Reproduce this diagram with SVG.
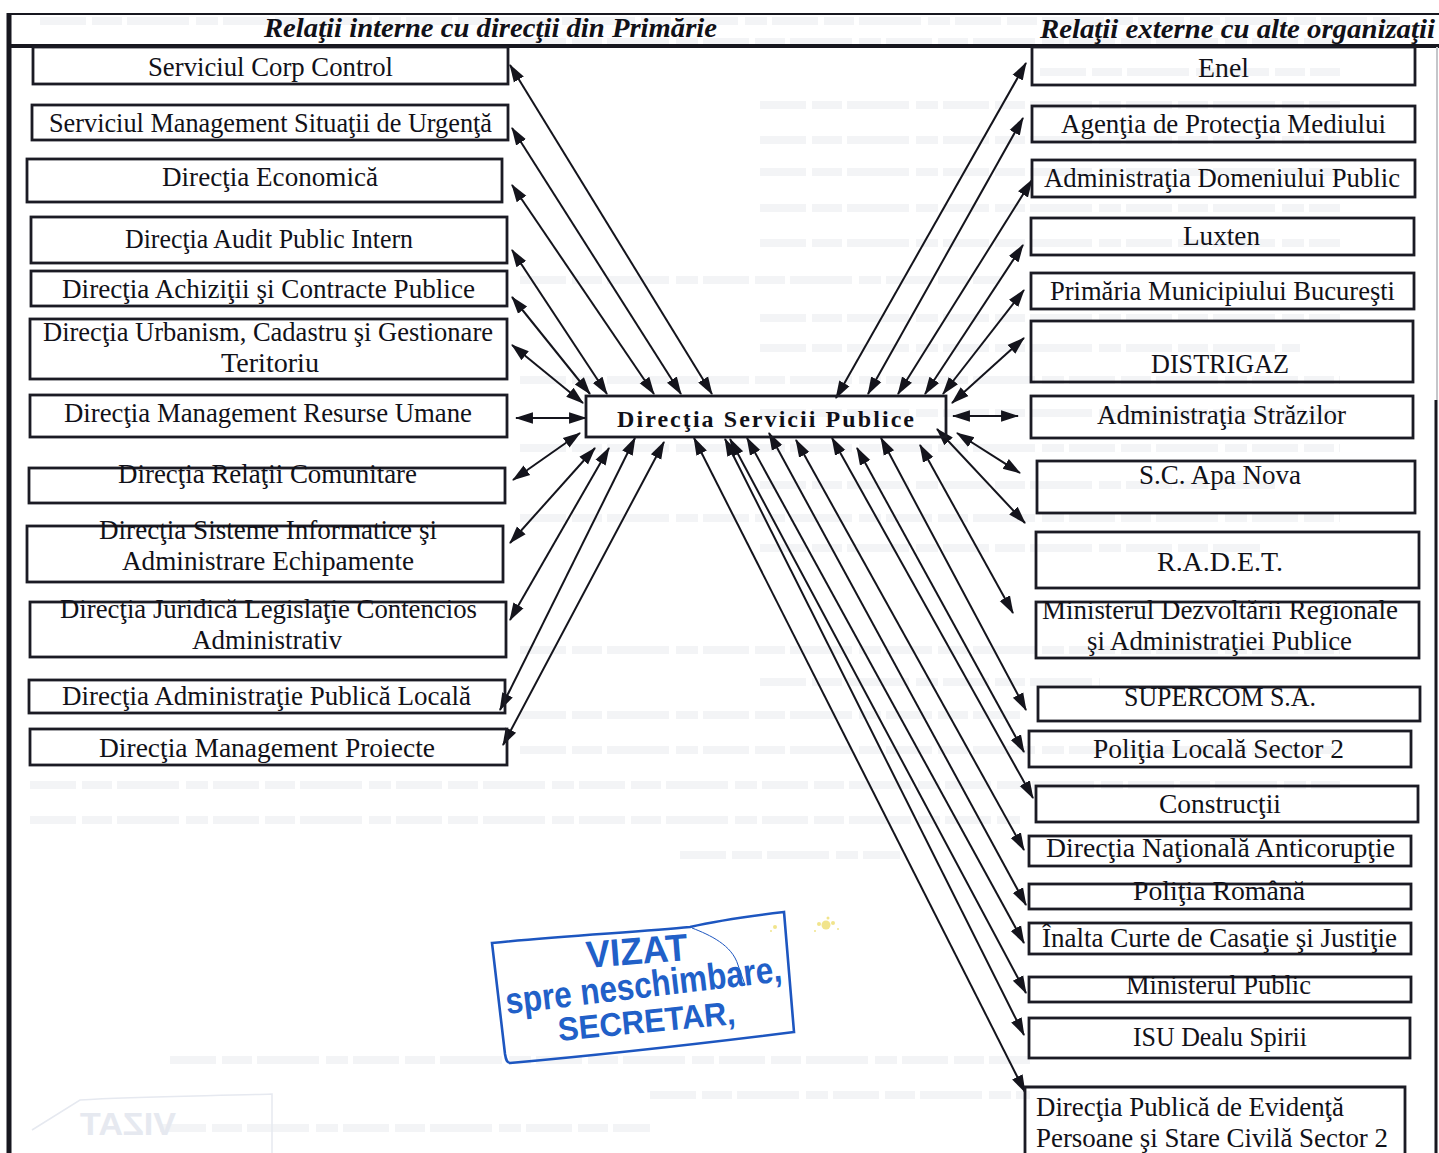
<svg xmlns="http://www.w3.org/2000/svg" width="1439" height="1153" viewBox="0 0 1439 1153">
<style>
.box{fill:none;stroke:#1b1b24;stroke-width:2.8}
.t{font-family:"Liberation Serif","Times New Roman",serif;font-size:27px;fill:#111118}
.h{font-family:"Liberation Serif","Times New Roman",serif;font-size:28px;font-weight:bold;font-style:italic;fill:#111118}
.c{font-family:"Liberation Serif","Times New Roman",serif;font-size:24px;font-weight:bold;fill:#111118}
.a{stroke:#14141c;stroke-width:2;fill:none;marker-start:url(#ah);marker-end:url(#ah)}
.g{stroke:#f3f4f6;stroke-width:8;fill:none;stroke-dasharray:46 6 30 5 62 7 22 5}
.s{font-family:"Liberation Sans",Arial,sans-serif;font-weight:bold;fill:#2160c8}
.st{fill:none;stroke:#1d56c0;stroke-width:2.6}
</style>
<defs>
<marker id="ah" markerUnits="userSpaceOnUse" markerWidth="18" markerHeight="14" refX="16" refY="6" orient="auto-start-reverse" viewBox="0 0 17 12"><path d="M0 0.5 L17 6 L0 11.5 Z" fill="#14141c"/></marker>
</defs>
<rect width="1439" height="1153" fill="#fff"/>
<g id="bleed">
<path class="g" d="M40 21H1400M520 42H1340M1040 72H1340M760 105H1340M760 140H1340M760 172H1340M760 208H1340M760 243H1340M520 280H1000M760 318H1340M760 348H1300M520 380H1340M760 413H1340M520 448H1340M760 485H1280M520 518H1340M760 548H1260M520 650H1340M760 682H1100M520 715H1020M520 750H1340M30 785H1340M30 820H1020M680 855H900M170 1060H1030M650 1095H1030M160 1128H650"/>
</g>
<g id="frame" fill="none" stroke="#17171f">
<path d="M9 13V1153" stroke-width="5"/>
<path d="M9 14H1439" stroke-width="2"/>
<path d="M9 46H1439" stroke-width="4"/>
<path d="M1437 47V400" stroke="#c4c6ca" stroke-width="2"/>
<path d="M1436 400V1153" stroke-width="3"/>
</g>
<g id="headers">
<text class="h" x="264" y="37" textLength="453" lengthAdjust="spacingAndGlyphs">Relaţii interne cu direcţii din Primărie</text>
<text class="h" x="1040" y="38" textLength="395" lengthAdjust="spacingAndGlyphs">Relaţii externe cu alte organizaţii</text>
</g>
<g id="connectors">
<path class="a" d="M510 65L712 394"/>
<path class="a" d="M512 128L681 394"/>
<path class="a" d="M512 185L654 394"/>
<path class="a" d="M512 250L607 394"/>
<path class="a" d="M512 297L590 394"/>
<path class="a" d="M512 345L583 403"/>
<path class="a" d="M516 418H586"/>
<path class="a" d="M513 480L580 433"/>
<path class="a" d="M510 543L595 448"/>
<path class="a" d="M510 620L609 448"/>
<path class="a" d="M500 710L635 438"/>
<path class="a" d="M503 745L664 442"/>
<path class="a" d="M1026 63L836 398"/>
<path class="a" d="M1023 118L868 394"/>
<path class="a" d="M1032 180L898 394"/>
<path class="a" d="M1023 245L925 394"/>
<path class="a" d="M1024 290L943 394"/>
<path class="a" d="M1024 338L952 403"/>
<path class="a" d="M1018 416H953"/>
<path class="a" d="M1020 473L957 433"/>
<path class="a" d="M1025 523L937 429"/>
<path class="a" d="M1013 613L920 445"/>
<path class="a" d="M1026 710L881 438"/>
<path class="a" d="M1024 752L857 448"/>
<path class="a" d="M1033 798L832 438"/>
<path class="a" d="M1024 850L796 440"/>
<path class="a" d="M1026 905L769 433"/>
<path class="a" d="M1024 943L747 438"/>
<path class="a" d="M1026 993L730 439"/>
<path class="a" d="M1024 1035L725 439"/>
<path class="a" d="M1025 1092L694 438"/>
</g>
<g id="n-center"><rect class="box" x="586" y="396" width="360" height="41"/><text class="c" x="617" y="427" textLength="297" lengthAdjust="spacing">Direcţia Servicii Publice</text></g>
<g id="l1"><rect class="box" x="33" y="47" width="475" height="37"/><text class="t" x="148" y="76" textLength="245" lengthAdjust="spacingAndGlyphs">Serviciul Corp Control</text></g>
<g id="l2"><rect class="box" x="32" y="105" width="476" height="35"/><text class="t" x="49" y="132" textLength="443" lengthAdjust="spacingAndGlyphs">Serviciul Management Situaţii de Urgenţă</text></g>
<g id="l3"><rect class="box" x="27" y="159" width="475" height="43"/><text class="t" x="162" y="186" textLength="216" lengthAdjust="spacingAndGlyphs">Direcţia Economică</text></g>
<g id="l4"><rect class="box" x="31" y="217" width="476" height="46"/><text class="t" x="125" y="248" textLength="288" lengthAdjust="spacingAndGlyphs">Direcţia Audit Public Intern</text></g>
<g id="l5"><rect class="box" x="31" y="271" width="476" height="35"/><text class="t" x="62" y="298" textLength="413" lengthAdjust="spacingAndGlyphs">Direcţia Achiziţii şi Contracte Publice</text></g>
<g id="l6"><rect class="box" x="30" y="319" width="477" height="60"/><text class="t" x="43" y="341" textLength="450" lengthAdjust="spacingAndGlyphs">Direcţia Urbanism, Cadastru şi Gestionare</text><text class="t" x="221" y="372" textLength="98" lengthAdjust="spacingAndGlyphs">Teritoriu</text></g>
<g id="l7"><rect class="box" x="30" y="395" width="477" height="42"/><text class="t" x="64" y="422" textLength="408" lengthAdjust="spacingAndGlyphs">Direcţia Management Resurse Umane</text></g>
<g id="l8"><rect class="box" x="29" y="468" width="476" height="35"/><text class="t" x="118" y="483" textLength="299" lengthAdjust="spacingAndGlyphs">Direcţia Relaţii Comunitare</text></g>
<g id="l9"><rect class="box" x="27" y="526" width="476" height="56"/><text class="t" x="99" y="539" textLength="338" lengthAdjust="spacingAndGlyphs">Direcţia Sisteme Informatice şi</text><text class="t" x="122" y="570" textLength="292" lengthAdjust="spacingAndGlyphs">Administrare Echipamente</text></g>
<g id="l10"><rect class="box" x="30" y="602" width="476" height="55"/><text class="t" x="60" y="618" textLength="417" lengthAdjust="spacingAndGlyphs">Direcţia Juridică Legislaţie Contencios</text><text class="t" x="192" y="649" textLength="150" lengthAdjust="spacingAndGlyphs">Administrativ</text></g>
<g id="l11"><rect class="box" x="29" y="680" width="476" height="33"/><text class="t" x="62" y="705" textLength="409" lengthAdjust="spacingAndGlyphs">Direcţia Administraţie Publică Locală</text></g>
<g id="l12"><rect class="box" x="30" y="729" width="477" height="36"/><text class="t" x="99" y="757" textLength="336" lengthAdjust="spacingAndGlyphs">Direcţia Management Proiecte</text></g>
<g id="r1"><rect class="box" x="1032" y="47" width="383" height="38"/><text class="t" x="1198" y="77" textLength="51" lengthAdjust="spacingAndGlyphs">Enel</text></g>
<g id="r2"><rect class="box" x="1032" y="106" width="383" height="36"/><text class="t" x="1061" y="133" textLength="325" lengthAdjust="spacingAndGlyphs">Agenţia de Protecţia Mediului</text></g>
<g id="r3"><rect class="box" x="1032" y="160" width="383" height="37"/><text class="t" x="1044" y="187" textLength="356" lengthAdjust="spacingAndGlyphs">Administraţia Domeniului Public</text></g>
<g id="r4"><rect class="box" x="1031" y="218" width="383" height="37"/><text class="t" x="1183" y="245" textLength="77" lengthAdjust="spacingAndGlyphs">Luxten</text></g>
<g id="r5"><rect class="box" x="1031" y="273" width="383" height="36"/><text class="t" x="1050" y="300" textLength="345" lengthAdjust="spacingAndGlyphs">Primăria Municipiului Bucureşti</text></g>
<g id="r6"><rect class="box" x="1031" y="321" width="382" height="61"/><text class="t" x="1151" y="373" textLength="138" lengthAdjust="spacingAndGlyphs">DISTRIGAZ</text></g>
<g id="r7"><rect class="box" x="1031" y="396" width="382" height="42"/><text class="t" x="1097" y="424" textLength="249" lengthAdjust="spacingAndGlyphs">Administraţia Străzilor</text></g>
<g id="r8"><rect class="box" x="1037" y="461" width="378" height="52"/><text class="t" x="1139" y="484" textLength="162" lengthAdjust="spacingAndGlyphs">S.C. Apa Nova</text></g>
<g id="r9"><rect class="box" x="1036" y="532" width="383" height="56"/><text class="t" x="1157" y="571" textLength="126" lengthAdjust="spacingAndGlyphs">R.A.D.E.T.</text></g>
<g id="r10"><rect class="box" x="1036" y="602" width="383" height="56"/><text class="t" x="1042" y="619" textLength="356" lengthAdjust="spacingAndGlyphs">Ministerul Dezvoltării Regionale</text><text class="t" x="1087" y="650" textLength="265" lengthAdjust="spacingAndGlyphs">şi Administraţiei Publice</text></g>
<g id="r11"><rect class="box" x="1038" y="687" width="382" height="34"/><text class="t" x="1124" y="706" textLength="192" lengthAdjust="spacingAndGlyphs">SUPERCOM S.A.</text></g>
<g id="r12"><rect class="box" x="1029" y="731" width="382" height="36"/><text class="t" x="1093" y="758" textLength="251" lengthAdjust="spacingAndGlyphs">Poliţia Locală Sector 2</text></g>
<g id="r13"><rect class="box" x="1036" y="786" width="382" height="36"/><text class="t" x="1159" y="813" textLength="122" lengthAdjust="spacingAndGlyphs">Construcţii</text></g>
<g id="r14"><rect class="box" x="1029" y="836" width="382" height="30"/><text class="t" x="1046" y="857" textLength="349" lengthAdjust="spacingAndGlyphs">Direcţia Naţională Anticorupţie</text></g>
<g id="r15"><rect class="box" x="1029" y="884" width="382" height="25"/><text class="t" x="1133" y="900" textLength="172" lengthAdjust="spacingAndGlyphs">Poliţia Română</text></g>
<g id="r16"><rect class="box" x="1029" y="923" width="382" height="31"/><text class="t" x="1042" y="947" textLength="355" lengthAdjust="spacingAndGlyphs">Înalta Curte de Casaţie şi Justiţie</text></g>
<g id="r17"><rect class="box" x="1029" y="977" width="382" height="25"/><text class="t" x="1126" y="994" textLength="185" lengthAdjust="spacingAndGlyphs">Ministerul Public</text></g>
<g id="r18"><rect class="box" x="1029" y="1018" width="381" height="40"/><text class="t" x="1133" y="1046" textLength="174" lengthAdjust="spacingAndGlyphs">ISU Dealu Spirii</text></g>
<g id="r19"><path class="box" d="M1025 1153V1087H1405V1153"/><text class="t" x="1036" y="1116" textLength="308" lengthAdjust="spacingAndGlyphs">Direcţia Publică de Evidenţă</text><text class="t" x="1036" y="1147" textLength="352" lengthAdjust="spacingAndGlyphs">Persoane şi Stare Civilă Sector 2</text></g>
<g id="stamp">
<path class="st" d="M492 943C560 936 640 932 690 927C720 920 750 916 784 912L794 1032C730 1040 610 1054 510 1063C507 1063 506 1060 505 1054Z"/>
<path d="M692 928C710 935 732 945 738 965L745 985" fill="none" stroke="#1d56c0" stroke-width="1"/>
<text class="s" font-size="38" transform="rotate(-4.5 587 968)" x="587" y="968" textLength="102" lengthAdjust="spacingAndGlyphs">VIZAT</text>
<text class="s" font-size="37" transform="rotate(-6.8 507 1014)" x="507" y="1014" textLength="278" lengthAdjust="spacingAndGlyphs">spre neschimbare,</text>
<text class="s" font-size="33" transform="rotate(-5.5 559 1041)" x="559" y="1041" textLength="178" lengthAdjust="spacingAndGlyphs">SECRETAR,</text>
<g fill="#f1e48c"><circle cx="826" cy="925" r="4.5"/><circle cx="819" cy="924" r="2"/><circle cx="833" cy="923" r="2"/><circle cx="828" cy="918" r="1.5"/><circle cx="815" cy="931" r="1"/><circle cx="838" cy="929" r="1"/><circle cx="775" cy="927" r="2"/><circle cx="771" cy="931" r="1"/></g>
</g>
<g id="bleed-stamp">
<path d="M32 1130L80 1100C140 1096 220 1096 272 1094V1153" fill="none" stroke="#e6e9f0" stroke-width="1.5"/>
<text transform="translate(256 1135) scale(-1 1)" x="80" y="0" font-family="Liberation Sans,Arial,sans-serif" font-size="32" font-weight="bold" fill="#e6e9f0" textLength="96" lengthAdjust="spacingAndGlyphs">VIZAT</text>
</g>
</svg>
